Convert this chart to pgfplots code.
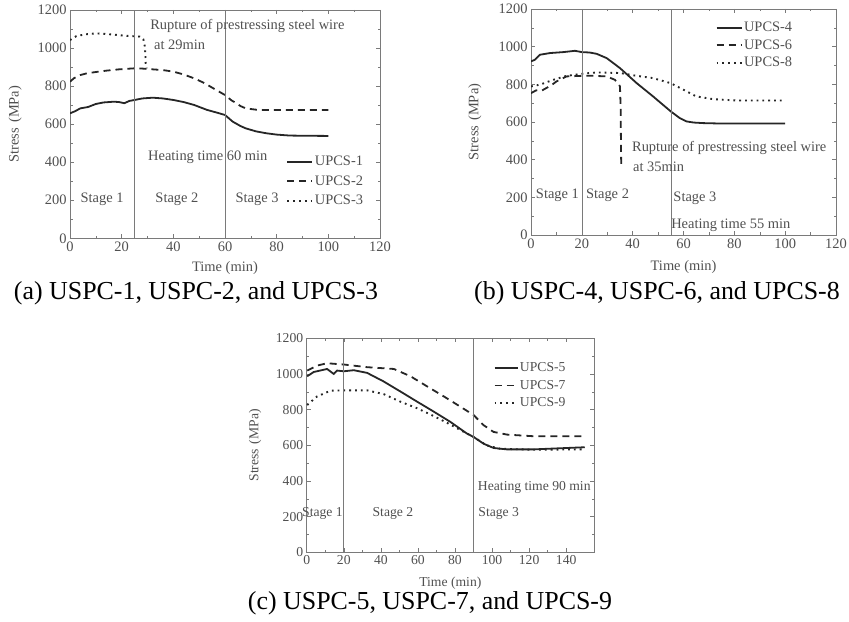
\documentclass[border=0pt]{standalone}
\usepackage{fontspec}
\setmainfont{Liberation Serif}
\usepackage{pgfplots}
\pgfplotsset{compat=1.18}

\definecolor{txt}{HTML}{505050}
\definecolor{frame}{HTML}{7A7A7A}
\definecolor{ink}{HTML}{262626}

\newcommand\afont{\fontsize{14.5}{17}\selectfont}

\tikzset{anno/.style={text=txt, font=\afont, inner sep=0pt}}

\pgfplotsset{
  stressaxis/.style={
    scale only axis,
    anchor=south west,
    clip mode=individual,
    axis line style={frame, line width=0.6bp},
    every tick/.style={frame, line width=0.5bp},
    tick align=inside,
    major tick length=4bp,
    minor tick length=2.5bp,
    ymin=0, ymax=1200,
    ytick={0,200,...,1200},
    minor y tick num=1,
    minor x tick num=1,
    tick label style={text=txt, font=\afont},
    label style={text=txt, font=\afont},
    /pgf/number format/assume math mode=true,
    /pgf/number format/1000 sep={},
    xlabel={Time (min)},
    ylabel={Stress\hspace{0.35em}(MPa)},
    legend cell align=left,
    legend style={draw=none, fill=none, text=txt, font=\afont,
      row sep=5.5bp, inner sep=0pt,
      nodes={inner sep=1.5bp}},
    legend image code/.code={\draw[line width=1.8bp, #1] (0bp,0bp) -- (25bp,0bp);},
  },
  s1/.style={ink, line width=1.8bp},
  s2/.style={ink, line width=1.8bp, dash pattern=on 7bp off 5bp},
  s3/.style={ink, line width=1.9bp, dash pattern=on 1.8bp off 4bp},
  stageline/.style={frame, line width=0.6bp, forget plot},
}

\begin{document}
\begin{tikzpicture}[x=1bp, y=1bp]
\path[use as bounding box] (0,0) rectangle (849,622);

% ---------------- (a) ----------------
\begin{axis}[stressaxis,
  at={(70bp,383.7bp)}, width=310bp, height=228.3bp,
  xmin=0, xmax=120, xtick={0,20,...,120},
  xlabel style={at={(axis description cs:0.5,-0.13)}, anchor=center},
  ylabel style={at={(axis description cs:-0.177,0.5)}, anchor=center},
  legend style={at={(axis description cs:0.698,0.367)}, anchor=north west},
]
\addplot[s1] coordinates {
 (0,657) (2,668) (4,683) (7,690) (10,706) (13,714) (17,718) (19,716)
 (21,710) (23,722) (25,727) (28,735) (32,739) (36,735) (40,727) (44,716)
 (48,701) (53,675) (57,660) (60,648) (63,613) (66,590) (68,578) (72,562)
 (76,552) (80,545) (85,540) (90,539) (100,538)};
\addlegendentry{UPCS-1}
\addplot[s2] coordinates {
 (0,823) (1.5,841) (4,858) (6.5,867) (10,874) (14,881) (19,888) (24.5,893)
 (28,892) (32,888) (36,884) (40,876) (44,861) (48,841) (52,816) (55.5,788)
 (60,753) (62.5,725) (64.5,709) (66,695) (68,683) (72,676) (76,674) (100,674)};
\addlegendentry{UPCS-2}
\addplot[s3] coordinates {
 (0,1042) (2.5,1063) (6,1072) (10,1077) (14,1074) (18,1069) (22,1064)
 (27,1060) (28.4,1046) (29,1007) (29.2,960) (29.3,920) (29.7,893)};
\addlegendentry{UPCS-3}
\addplot[stageline] coordinates {(25,0) (25,1200)};
\addplot[stageline] coordinates {(60,0) (60,1200)};
\node[anno, anchor=west] at (axis cs:31,1116) {Rupture of prestressing steel wire};
\node[anno, anchor=west] at (axis cs:32.5,1016) {at 29min};
\node[anno, anchor=west] at (axis cs:30.2,427) {Heating time 60 min};
\node[anno] at (axis cs:12.4,207) {Stage 1};
\node[anno] at (axis cs:41.4,207) {Stage 2};
\node[anno] at (axis cs:72.4,207) {Stage 3};
\end{axis}

% ---------------- (b) ----------------
\begin{axis}[stressaxis,
  at={(531bp,387bp)}, width=305bp, height=226bp,
  xmin=0, xmax=120, xtick={0,20,...,120},
  xlabel style={at={(axis description cs:0.5,-0.142)}, anchor=center},
  ylabel style={at={(axis description cs:-0.184,0.5)}, anchor=center},
  legend style={at={(axis description cs:0.605,0.949)}, anchor=north west,
    row sep=3.5bp},
]
\addplot[s1] coordinates {
 (0,922) (1.5,930) (3.5,957) (7.5,966) (12.7,971) (17.3,978) (20,971)
 (23,969) (25.8,962) (29.8,939) (35,886) (41.6,806) (48,736) (55,656)
 (58.6,620) (61.2,603) (64,597) (67.8,594) (74,592) (100,592)};
\addlegendentry{UPCS-4}
\addplot[s2] coordinates {
 (0,753) (2,768) (4,765) (6,780) (8,795) (10,815) (14,842) (20,845)
 (24.5,845) (29.8,842) (33,824) (34.5,800) (35,789) (35.3,665) (35.4,452) (35.5,372)};
\addlegendentry{UPCS-6}
\addplot[s3] coordinates {
 (0,789) (3.5,798) (8.8,824) (14,845) (20,856) (25.8,863) (35,860)
 (41.6,845) (48,833) (55,806) (60,771) (65,736) (71.7,721) (81,714) (100,714)};
\addlegendentry{UPCS-8}
\addplot[stageline] coordinates {(20,0) (20,1200)};
\addplot[stageline] coordinates {(55,0) (55,1200)};
\node[anno, anchor=west] at (axis cs:39.7,462) {Rupture of prestressing steel wire};
\node[anno, anchor=west] at (axis cs:40.1,361) {at 35min};
\node[anno, anchor=west] at (axis cs:55.1,53) {Heating time 55 min};
\node[anno] at (axis cs:10.4,212) {Stage 1};
\node[anno] at (axis cs:30.1,212) {Stage 2};
\node[anno] at (axis cs:64.5,196) {Stage 3};
\end{axis}

% ---------------- (c) ----------------
\renewcommand\afont{\fontsize{13.7}{16}\selectfont}
\begin{axis}[stressaxis,
  at={(306.7bp,69.7bp)}, width=287.3bp, height=214bp,
  xmin=0, xmax=155, xtick={0,20,...,140},
  xlabel style={at={(axis description cs:0.5,-0.143)}, anchor=center},
  ylabel style={at={(axis description cs:-0.18,0.5)}, anchor=center},
  legend style={at={(axis description cs:0.65,0.894)}, anchor=north west,
    row sep=4bp},
  legend image code/.code={\draw[line width=1.8bp, #1] (0bp,0bp) -- (23bp,0bp);},
]
\addplot[s1] coordinates {
 (0.25,987) (3.8,1011) (11,1028) (14.6,1000) (16.4,1019) (20,1015)
 (25.4,1021) (32.6,1006) (41.5,958) (50.5,902) (59.5,845) (68.5,789)
 (77.4,732) (86.4,666) (90,647) (95.4,609) (100.8,585) (108,577)
 (122,577) (150,589)};
\addlegendentry{UPCS-5}
\addplot[s2] coordinates {
 (0.25,1019) (5.6,1047) (11,1060) (20,1053) (32.6,1038) (47,1028)
 (56,987) (65,930) (74,874) (82.8,817) (90,770) (95.4,713) (100.8,675)
 (108,660) (122,651) (150,651)};
\addlegendentry{UPCS-7}
\addplot[s3] coordinates {
 (0.25,826) (5.6,874) (12.8,906) (20,908) (32.6,908) (41.5,887)
 (50.5,845) (59.5,808) (68.5,764) (77.4,717) (86.4,666) (90,647)
 (97,600) (104,581) (122,575) (150,577)};
\addlegendentry{UPCS-9}
\addplot[stageline] coordinates {(20,0) (20,1200)};
\addplot[stageline] coordinates {(90,0) (90,1200)};
\node[anno, anchor=west] at (axis cs:92.3,361) {Heating time 90 min};
\node[anno] at (axis cs:8.5,215) {Stage 1};
\node[anno] at (axis cs:46.5,215) {Stage 2};
\node[anno] at (axis cs:103.6,215) {Stage 3};
\end{axis}

% ---------------- captions ----------------
\node[font=\fontsize{26}{30}\selectfont] at (196,329) {(a) USPC-1, USPC-2, and UPCS-3};
\node[font=\fontsize{26}{30}\selectfont] at (657,329) {(b) USPC-4, USPC-6, and UPCS-8};
\node[font=\fontsize{26}{30}\selectfont] at (430,19) {(c) USPC-5, USPC-7, and UPCS-9};
\end{tikzpicture}
\end{document}
